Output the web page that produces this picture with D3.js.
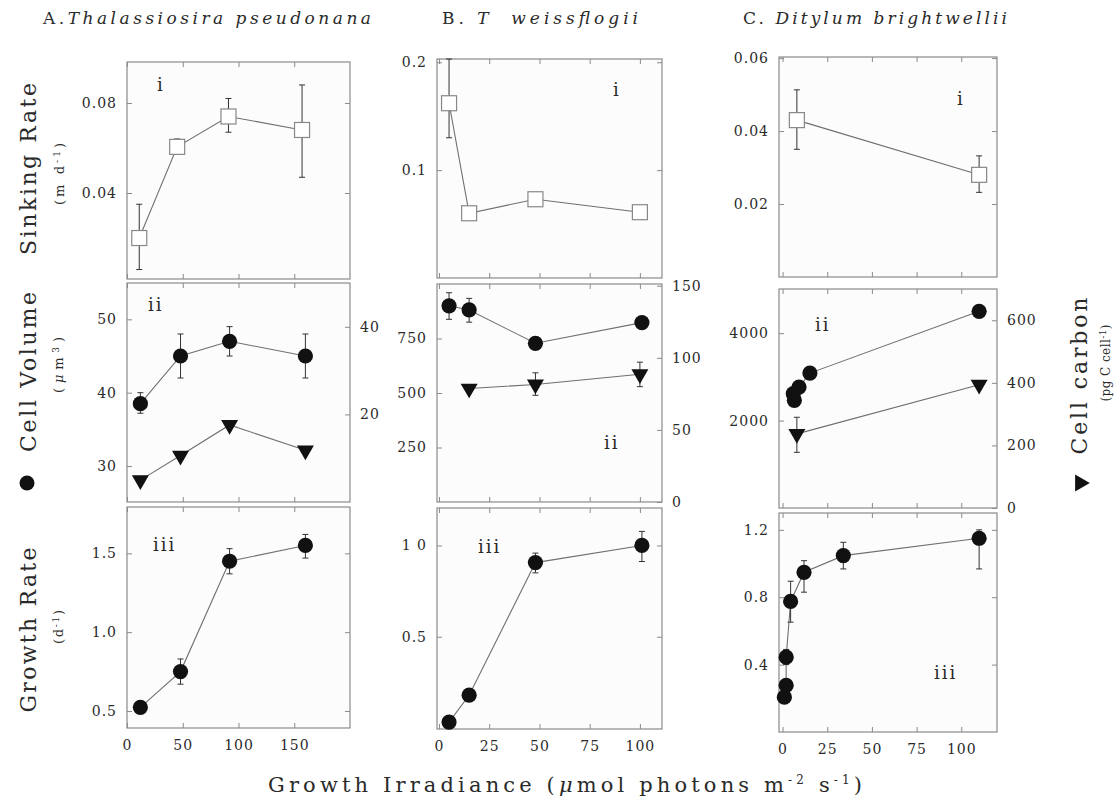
<!DOCTYPE html>
<head>
<meta charset="utf-8">
<script src="https://d3js.org/d3.v7.min.js"></script>
<style>
  body { margin: 0; background: #fff; }
  svg text { font-family: "DejaVu Serif", serif; fill: #2a2a2a; }
  .ax text { font-size: 14px; letter-spacing: 1px; }
</style>
</head>
<body>
<div id="datavis"></div>
<script>
// ---------- data ----------
// A. Thalassiosira pseudonana
var aSinkX = [11, 45, 91, 157];
var aSink = [0.020, 0.0605, 0.074, 0.068];
var aSinkLo = [0.006, 0.058, 0.067, 0.047];
var aSinkHi = [0.035, 0.064, 0.082, 0.088];
var aX = [12, 48, 92, 160];
var aVol = [38.5, 45, 47, 45];
var aVolLo = [37.2, 42, 45, 42];
var aVolHi = [40, 48, 49, 48];
var aCarbon = [5.0, 10.6, 17.6, 11.8];
var aGrowth = [0.523, 0.75, 1.45, 1.55];
var aGrowthLo = [null, 0.67, 1.37, 1.47];
var aGrowthHi = [null, 0.83, 1.53, 1.62];

// B. T. weissflogii
var bSinkX = [5, 15, 48, 100];
var bSink = [0.162, 0.060, 0.073, 0.061];
var bSinkLo = [0.13, null, null, null];
var bSinkHi = [0.203, null, null, null];
var bVolX = [5, 15, 48, 101];
var bVol = [900, 881, 728, 823];
var bVolLo = [838, 825, null, null];
var bVolHi = [960, 934, null, null];
var bCarbonX = [15, 48, 100];
var bCarbon = [78.7, 81.5, 88.6];
var bCarbonLo = [null, 74, 80];
var bCarbonHi = [null, 89.6, 97];
var bGrowthX = [5, 15, 48, 101];
var bGrowth = [0.033, 0.18, 0.906, 1.0];
var bGrowthLo = [null, null, 0.85, 0.912];
var bGrowthHi = [null, null, 0.958, 1.077];

// C. Ditylum brightwellii
var cSinkX = [8, 110];
var cSink = [0.043, 0.028];
var cSinkLo = [0.035, 0.0232];
var cSinkHi = [0.0513, 0.0332];
var cVolX = [6, 6.6, 9.2, 15.3, 110];
var cVol = [2616, 2463, 2766, 3086, 4500];
var cCarbonX = [8, 110];
var cCarbon = [237, 394];
var cCarbonLo = [178, null];
var cCarbonHi = [290, null];
var cGrowthX = [1, 2, 2, 4.5, 12, 34, 110];
var cGrowth = [0.207, 0.277, 0.444, 0.775, 0.948, 1.047, 1.15];
var cGrowthLo = [0.18, 0.25, 0.40, 0.652, 0.83, 0.968, 0.968];
var cGrowthHi = [0.23, 0.30, 0.49, 0.895, 1.017, 1.126, 1.2];

// ---------- tick values and labels ----------
var aXTicks = [0, 50, 100, 150], aXLabels = ["0", "50", "100", "150"];
var bXTicks = [0, 25, 50, 75, 100], bXLabels = ["0", "25", "50", "75", "100"];
var cXTicks = [0, 25, 50, 75, 100], cXLabels = ["0", "25", "50", "75", "100"];

var aSinkTicks = [0.04, 0.08], aSinkLabels = ["0.04", "0.08"];
var aVolTicks = [30, 40, 50], aVolLabels = ["30", "40", "50"];
var aCarbonTicks = [20, 40], aCarbonLabels = ["20", "40"];
var aGrowthTicks = [0.5, 1.0, 1.5], aGrowthLabels = ["0.5", "1.0", "1.5"];

var bSinkTicks = [0.1, 0.2], bSinkLabels = ["0.1", "0.2"];
var bVolTicks = [250, 500, 750], bVolLabels = ["250", "500", "750"];
var bCarbonTicks = [0, 50, 100, 150], bCarbonLabels = ["0", "50", "100", "150"];
var bGrowthTicks = [0.5, 1.0], bGrowthLabels = ["0.5", "1 0"];

var cSinkTicks = [0.02, 0.04, 0.06], cSinkLabels = ["0.02", "0.04", "0.06"];
var cVolTicks = [2000, 4000], cVolLabels = ["2000", "4000"];
var cCarbonTicks = [0, 200, 400, 600], cCarbonLabels = ["0", "200", "400", "600"];
var cGrowthTicks = [0.4, 0.8, 1.2], cGrowthLabels = ["0.4", "0.8", "1.2"];

// ---------- layout ----------
var width = 1119, height = 805;
var cols = [
  {x0: 127, x1: 350, dom: [0, 200], ticks: aXTicks, labels: aXLabels, rows: [[62, 279], [283, 502], [507, 728]]},
  {x0: 437, x1: 662, dom: [-1, 111], ticks: bXTicks, labels: bXLabels, rows: [[59, 278], [284, 502], [508, 729]]},
  {x0: 779, x1: 997, dom: [-2, 120], ticks: cXTicks, labels: cXLabels, rows: [[57, 277], [289, 508], [513, 732]]}
];

var svg = d3.select("#datavis").append("svg")
  .attr("width", width).attr("height", height);

function styleAxis(g) {
  g.attr("class", "ax").attr("color", "#8a8a8a");
  g.select(".domain").remove();
  g.selectAll(".tick line").attr("stroke-width", 1);
}

function fmt(labels) { return function(d, i) { return labels[i]; }; }

function drawSeries(g, x, y, xs, ys, lo, hi, shape) {
  var idx = d3.range(xs.length);
  g.append("path")
    .attr("fill", "none").attr("stroke", "#6f6f6f").attr("stroke-width", 1.1)
    .attr("d", d3.line().x(function(i) { return x(xs[i]); }).y(function(i) { return y(ys[i]); })(idx));

  if (lo) {
    idx.filter(function(i) { return lo[i] != null; }).forEach(function(i) {
      var cx = x(xs[i]);
      var eb = g.append("g").attr("stroke", "#333").attr("stroke-width", 1);
      eb.append("line").attr("x1", cx).attr("x2", cx).attr("y1", y(lo[i])).attr("y2", y(hi[i]));
      eb.append("line").attr("x1", cx - 3).attr("x2", cx + 3).attr("y1", y(lo[i])).attr("y2", y(lo[i]));
      eb.append("line").attr("x1", cx - 3).attr("x2", cx + 3).attr("y1", y(hi[i])).attr("y2", y(hi[i]));
    });
  }

  idx.forEach(function(i) {
    var cx = x(xs[i]), cy = y(ys[i]);
    if (shape === "square") {
      g.append("rect").attr("x", cx - 7.5).attr("y", cy - 7.5).attr("width", 15).attr("height", 15)
        .attr("fill", "#fff").attr("stroke", "#888").attr("stroke-width", 1.2);
    } else if (shape === "circle") {
      g.append("circle").attr("cx", cx).attr("cy", cy).attr("r", 7.6).attr("fill", "#111");
    } else {
      g.append("path").attr("d", d3.symbol(d3.symbolTriangle, 125)())
        .attr("transform", "translate(" + cx + "," + cy + ") rotate(180)")
        .attr("fill", "#111");
    }
  });
}

function drawPanel(ci, ri, cfg) {
  var c = cols[ci], r = c.rows[ri];
  var x = d3.scaleLinear().domain(c.dom).range([c.x0, c.x1]);
  var y = d3.scaleLinear().domain(cfg.dom).range([r[1], r[0]]);
  var g = svg.append("g");

  g.append("rect").attr("x", c.x0).attr("y", r[0]).attr("width", c.x1 - c.x0).attr("height", r[1] - r[0])
    .attr("fill", "#fcfcfc").attr("stroke", "#8a8a8a").attr("stroke-width", 1.2);

  // left axis
  g.append("g").attr("transform", "translate(" + c.x0 + ",0)")
    .call(d3.axisLeft(y).tickValues(cfg.ticks).tickFormat(fmt(cfg.labels)).tickSize(-5).tickPadding(10))
    .call(styleAxis);

  // right axis (second variable) or plain ticks
  var y2 = y;
  if (cfg.right) {
    y2 = d3.scaleLinear().domain(cfg.right.dom).range([r[1], r[0]]);
    g.append("g").attr("transform", "translate(" + c.x1 + ",0)")
      .call(d3.axisRight(y2).tickValues(cfg.right.ticks).tickFormat(fmt(cfg.right.labels)).tickSize(-5).tickPadding(10))
      .call(styleAxis);
  } else {
    g.append("g").attr("transform", "translate(" + c.x1 + ",0)")
      .call(d3.axisRight(y).tickValues(cfg.ticks).tickFormat("").tickSize(-5))
      .call(styleAxis);
  }

  // top / bottom ticks
  g.append("g").attr("transform", "translate(0," + r[0] + ")")
    .call(d3.axisTop(x).tickValues(c.ticks).tickFormat("").tickSize(-5))
    .call(styleAxis);
  var bottom = d3.axisBottom(x).tickValues(c.ticks).tickSize(-5).tickPadding(12)
    .tickFormat(ri === 2 ? fmt(c.labels) : "");
  g.append("g").attr("transform", "translate(0," + r[1] + ")")
    .call(bottom).call(styleAxis);

  cfg.series.forEach(function(s) {
    drawSeries(g, x, s.right ? y2 : y, s.x, s.y, s.lo, s.hi, s.shape);
  });

  g.append("text").attr("x", cfg.tag[0]).attr("y", cfg.tag[1])
    .attr("font-size", 18).attr("letter-spacing", 2).text(cfg.tagText);
}

// ---------- column A ----------
drawPanel(0, 0, {dom: [0.0018, 0.0982], ticks: aSinkTicks, labels: aSinkLabels,
  series: [{x: aSinkX, y: aSink, lo: aSinkLo, hi: aSinkHi, shape: "square"}],
  tag: [157, 91], tagText: "i"});
drawPanel(0, 1, {dom: [25.1, 54.95], ticks: aVolTicks, labels: aVolLabels,
  right: {dom: [0, 50], ticks: aCarbonTicks, labels: aCarbonLabels},
  series: [{x: aX, y: aCarbon, shape: "tri", right: true},
           {x: aX, y: aVol, lo: aVolLo, hi: aVolHi, shape: "circle"}],
  tag: [148, 311], tagText: "ii"});
drawPanel(0, 2, {dom: [0.392, 1.794], ticks: aGrowthTicks, labels: aGrowthLabels,
  series: [{x: aX, y: aGrowth, lo: aGrowthLo, hi: aGrowthHi, shape: "circle"}],
  tag: [153, 551], tagText: "iii"});

// ---------- column B ----------
drawPanel(1, 0, {dom: [0, 0.203], ticks: bSinkTicks, labels: bSinkLabels,
  series: [{x: bSinkX, y: bSink, lo: bSinkLo, hi: bSinkHi, shape: "square"}],
  tag: [613, 96], tagText: "i"});
drawPanel(1, 1, {dom: [0, 1000], ticks: bVolTicks, labels: bVolLabels,
  right: {dom: [0, 151.2], ticks: bCarbonTicks, labels: bCarbonLabels},
  series: [{x: bCarbonX, y: bCarbon, lo: bCarbonLo, hi: bCarbonHi, shape: "tri", right: true},
           {x: bVolX, y: bVol, lo: bVolLo, hi: bVolHi, shape: "circle"}],
  tag: [604, 449], tagText: "ii"});
drawPanel(1, 2, {dom: [-0.005, 1.205], ticks: bGrowthTicks, labels: bGrowthLabels,
  series: [{x: bGrowthX, y: bGrowth, lo: bGrowthLo, hi: bGrowthHi, shape: "circle"}],
  tag: [478, 553], tagText: "iii"});

// ---------- column C ----------
drawPanel(2, 0, {dom: [0, 0.0603], ticks: cSinkTicks, labels: cSinkLabels,
  series: [{x: cSinkX, y: cSink, lo: cSinkLo, hi: cSinkHi, shape: "square"}],
  tag: [957, 105], tagText: "i"});
drawPanel(2, 1, {dom: [0, 5010], ticks: cVolTicks, labels: cVolLabels,
  right: {dom: [0, 700], ticks: cCarbonTicks, labels: cCarbonLabels},
  series: [{x: cCarbonX, y: cCarbon, lo: cCarbonLo, hi: cCarbonHi, shape: "tri", right: true},
           {x: cVolX, y: cVol, shape: "circle"}],
  tag: [815, 331], tagText: "ii"});
drawPanel(2, 2, {dom: [0, 1.3], ticks: cGrowthTicks, labels: cGrowthLabels,
  series: [{x: cGrowthX, y: cGrowth, lo: cGrowthLo, hi: cGrowthHi, shape: "circle"}],
  tag: [934, 679], tagText: "iii"});

// ---------- column titles ----------
var t = svg.append("text").attr("x", 43).attr("y", 24).attr("font-size", 17)
  .attr("textLength", 328).attr("lengthAdjust", "spacing");
t.append("tspan").text("A.");
t.append("tspan").attr("font-style", "italic").text("Thalassiosira pseudonana");

t = svg.append("text").attr("x", 442).attr("y", 24).attr("font-size", 17)
  .attr("textLength", 196).attr("lengthAdjust", "spacing").style("white-space", "pre");
t.append("tspan").text("B. ");
t.append("tspan").attr("font-style", "italic").text("T  weissflogii");

t = svg.append("text").attr("x", 743).attr("y", 24).attr("font-size", 17)
  .attr("textLength", 264).attr("lengthAdjust", "spacing");
t.append("tspan").text("C. ");
t.append("tspan").attr("font-style", "italic").text("Ditylum brightwellii");

// ---------- y titles ----------
function vText(x, y, size, len) {
  var el = svg.append("text").attr("transform", "translate(" + x + "," + y + ") rotate(-90)")
    .attr("text-anchor", "middle").attr("font-size", size);
  if (len) el.attr("textLength", len).attr("lengthAdjust", "spacing");
  return el;
}
vText(36, 169, 22, 172).text("Sinking Rate");
var u = vText(64, 174, 13, 62);
u.append("tspan").text("(m d");
u.append("tspan").attr("dy", -4).attr("font-size", 9).text("-1");
u.append("tspan").attr("dy", 4).text(")");

vText(36, 372, 22, 160).text("Cell Volume");
svg.append("circle").attr("cx", 27).attr("cy", 483).attr("r", 7.5).attr("fill", "#111");
u = vText(63, 365, 13, 56);
u.append("tspan").text("(");
u.append("tspan").attr("font-style", "italic").text("μ");
u.append("tspan").text("m");
u.append("tspan").attr("dy", -4).attr("font-size", 9).text("3");
u.append("tspan").attr("dy", 4).text(")");

vText(36, 630, 22, 165).text("Growth Rate");
u = vText(63, 627, 13, 34);
u.append("tspan").text("(d");
u.append("tspan").attr("dy", -4).attr("font-size", 9).text("-1");
u.append("tspan").attr("dy", 4).text(")");

vText(1087, 376, 22, 157).text("Cell carbon");
svg.append("path").attr("d", d3.symbol(d3.symbolTriangle, 125)())
  .attr("transform", "translate(1080,483) rotate(90)").attr("fill", "#111");
u = vText(1110, 363, 12, 77);
u.append("tspan").text("(pg C cell");
u.append("tspan").attr("dy", -4).attr("font-size", 9).text("-1");
u.append("tspan").attr("dy", 4).text(")");

// ---------- x title ----------
var xt = svg.append("text").attr("x", 268).attr("y", 792).attr("font-size", 21)
  .attr("textLength", 594).attr("lengthAdjust", "spacing");
xt.append("tspan").text("Growth Irradiance (");
xt.append("tspan").attr("font-style", "italic").text("μ");
xt.append("tspan").text("mol photons m");
xt.append("tspan").attr("dy", -8).attr("font-size", 12).text("-2");
xt.append("tspan").attr("dy", 8).text(" s");
xt.append("tspan").attr("dy", -8).attr("font-size", 12).text("-1");
xt.append("tspan").attr("dy", 8).text(")");
</script>
</body>
